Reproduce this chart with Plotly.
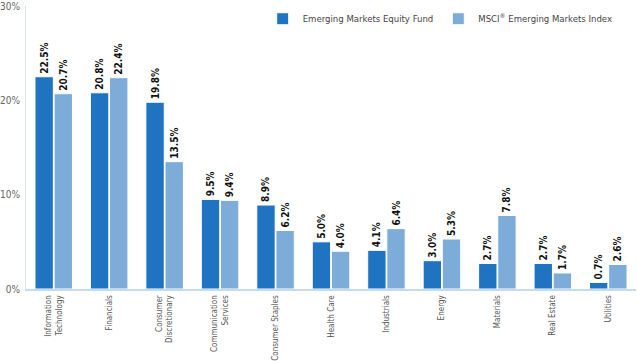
import plotly.graph_objects as go

categories = ["Information<br>Technology", "Financials", "Consumer<br>Discretionary",
              "Communication<br>Services", "Consumer Staples", "Health Care",
              "Industrials", "Energy", "Materials", "Real Estate", "Utilities"]
fund = [22.5, 20.8, 19.8, 9.5, 8.9, 5.0, 4.1, 3.0, 2.7, 2.7, 0.7]
index = [20.7, 22.4, 13.5, 9.4, 6.2, 4.0, 6.4, 5.3, 7.8, 1.7, 2.6]
y_ticks = [0, 10, 20, 30]
y_labels = ["0%", "10%", "20%", "30%"]

FONT = "DejaVu Sans Condensed, Roboto, sans-serif"

fig = go.Figure()
for name, vals, color in [("Emerging Markets Equity Fund", fund, "#1f73c1"),
                          ("MSCI<sup>®</sup> Emerging Markets Index", index, "#7eacd8")]:
    fig.add_trace(go.Bar(
        x=categories, y=vals, name=name,
        marker=dict(color=color, line=dict(color="white", width=1)),
        text=[f"{v:.1f}%" for v in vals], textposition="outside", textangle=-90,
        constraintext="none",
        textfont=dict(family=FONT, size=10, color="#111111", weight="bold"),
        cliponaxis=False,
    ))

fig.update_layout(
    width=637, height=361,
    margin=dict(l=26, r=1, t=6, b=72, autoexpand=False),
    plot_bgcolor="white", paper_bgcolor="white",
    barmode="group", bargap=0.31, bargroupgap=0.04,
    font=dict(family=FONT, size=8, color="#555555"),
    showlegend=True,
    legend=dict(orientation="h", x=0.97, xanchor="right", y=0.955, yanchor="middle",
                font=dict(family=FONT, size=9.5, color="#444444"),
                bgcolor="rgba(0,0,0,0)"),
)
fig.update_yaxes(range=[0, 30], tickvals=y_ticks, ticktext=y_labels, showgrid=False,
                 showline=True, linecolor="#d6e2ef", linewidth=1, zeroline=False,
                 ticks="", tickfont=dict(size=10, color="#666666"), ticklabelstandoff=3,
                 automargin=False)
fig.update_xaxes(tickangle=-90, showline=True, linecolor="#c7dbef", linewidth=2,
                 ticks="", tickfont=dict(size=8, color="#555555"), ticklabelstandoff=1,
                 automargin=False)

fig.write_html("out.html", config={"displayModeBar": False},
               post_script="document.body.style.margin='0';")
